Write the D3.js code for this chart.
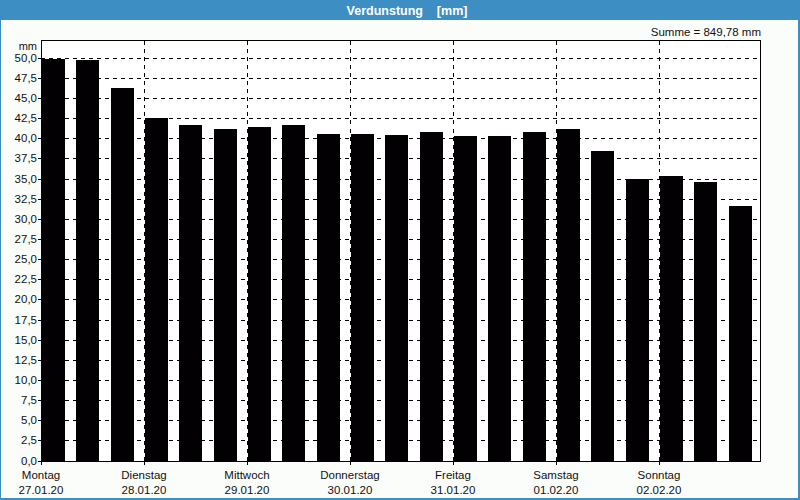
<!DOCTYPE html>
<html>
<head>
<meta charset="utf-8">
<script src="https://cdn.jsdelivr.net/npm/d3@7"></script>
<style>
html,body{margin:0;padding:0;background:#fbfdfb;}
svg{display:block;}
text{font-family:"Liberation Sans",Arial,sans-serif;}
</style>
</head>
<body>
<script>
const title = "Verdunstung    [mm]";
const sumLabel = "Summe = 849,78 mm";
const unitLabel = "mm";
const dayNames = ["Montag","Dienstag","Mittwoch","Donnerstag","Freitag","Samstag","Sonntag"];
const dayDates = ["27.01.20","28.01.20","29.01.20","30.01.20","31.01.20","01.02.20","02.02.20"];
const values = [49.85,49.7,46.25,42.55,41.65,41.15,41.4,41.65,40.54,40.54,40.41,40.78,40.28,40.28,40.78,41.15,38.42,34.94,35.32,34.57,31.59];
const yTicks = d3.range(0, 50.01, 2.5);

const W = 800, H = 500;
const svg = d3.select("body").append("svg").attr("width", W).attr("height", H);

// background & frame
svg.append("rect").attr("x",0).attr("y",0).attr("width",W).attr("height",H).attr("fill","#3d8fc3");
svg.append("rect").attr("x",1).attr("y",20).attr("width",W-3).attr("height",H-22).attr("fill","#fbfdfb");

svg.append("text").attr("x",407).attr("y",15).attr("text-anchor","middle")
  .attr("fill","#ffffff").attr("font-weight","bold").attr("font-size","12.5px")
  .style("white-space","pre").text(title);

const pL = 41, pR = 760, pT = 40.5, pB = 460.5;
const y = d3.scaleLinear().domain([0, 52.15]).range([pB, pT]);
const xDay = d3.scaleLinear().domain([0, 7]).range([pL, 762]);
const xBar = d3.scaleBand().domain(d3.range(values.length)).range([pL, 762]).padding(0);

const g = svg.append("g").attr("shape-rendering","crispEdges");

// plot background
g.append("rect").attr("x",pL).attr("y",pT).attr("width",pR-pL).attr("height",pB-pT).attr("fill","#ffffff");

// horizontal grid
g.selectAll(".hg").data(yTicks.filter(d=>d>0)).enter().append("line")
  .attr("x1",pL).attr("x2",pR)
  .attr("y1",d=>Math.round(y(d))+0.5).attr("y2",d=>Math.round(y(d))+0.5)
  .attr("stroke","#000").attr("stroke-dasharray","4,4");

// vertical grid
g.selectAll(".vg").data(d3.range(1,7)).enter().append("line")
  .attr("x1",d=>Math.round(xDay(d))+0.5).attr("x2",d=>Math.round(xDay(d))+0.5)
  .attr("y1",pT).attr("y2",pB)
  .attr("stroke","#000").attr("stroke-dasharray","4,4");

// bars
g.selectAll(".bar").data(values).enter().append("rect")
  .attr("x",(d,i)=>Math.round(xBar(i))+1)
  .attr("width",Math.round(xBar.bandwidth()*0.66))
  .attr("y",d=>Math.round(y(d)))
  .attr("height",d=>Math.round(pB)-Math.round(y(d)))
  .attr("fill","#030003");

// frame
g.append("path").attr("d",`M${pL+0.5},${pB} V${pT} H${pR+0.5} V${pB}`)
  .attr("fill","none").attr("stroke","#000");
g.append("line").attr("x1",pL).attr("x2",pR+1).attr("y1",Math.round(pB)+0.5).attr("y2",Math.round(pB)+0.5).attr("stroke","#000");

// y ticks
g.selectAll(".yt").data(yTicks).enter().append("line")
  .attr("x1",pL-3).attr("x2",pL)
  .attr("y1",d=>Math.round(y(d))+0.5).attr("y2",d=>Math.round(y(d))+0.5)
  .attr("stroke","#000");
svg.selectAll(".yl").data(yTicks).enter().append("text")
  .attr("x",37).attr("y",d=>y(d)+4).attr("text-anchor","end")
  .attr("font-size","11.5px").attr("fill","#111")
  .text(d=>d3.format(".1f")(d).replace(".",","));
svg.append("text").attr("x",37).attr("y",50).attr("text-anchor","end")
  .attr("font-size","11px").attr("fill","#111").text(unitLabel);

// x ticks
g.selectAll(".xt").data(d3.range(0,7)).enter().append("line")
  .attr("x1",d=>Math.round(xDay(d))+0.5).attr("x2",d=>Math.round(xDay(d))+0.5)
  .attr("y1",Math.round(pB)).attr("y2",Math.round(pB)+4)
  .attr("stroke","#000");
svg.selectAll(".xn").data(dayNames).enter().append("text")
  .attr("x",(d,i)=>xDay(i)).attr("y",479).attr("text-anchor","middle")
  .attr("font-size","11.5px").attr("fill","#111").text(d=>d);
svg.selectAll(".xd").data(dayDates).enter().append("text")
  .attr("x",(d,i)=>xDay(i)).attr("y",494).attr("text-anchor","middle")
  .attr("font-size","11.5px").attr("fill","#111").text(d=>d);

svg.append("text").attr("x",761).attr("y",36).attr("text-anchor","end")
  .attr("font-size","11.5px").attr("fill","#111").text(sumLabel);
</script>
</body>
</html>
